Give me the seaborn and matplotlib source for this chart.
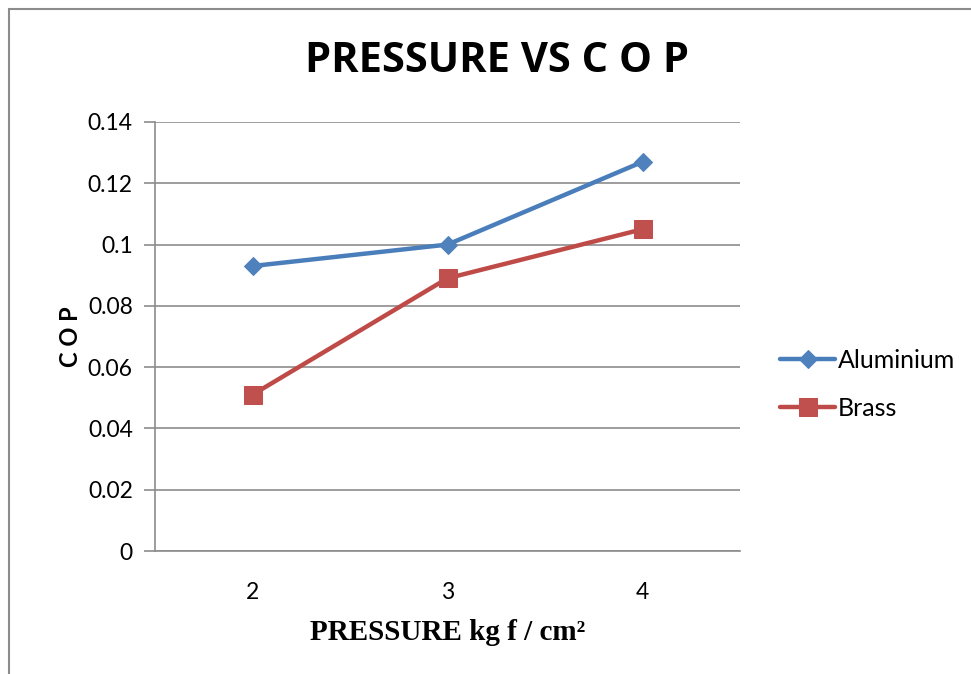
import matplotlib
matplotlib.use("Agg")
import matplotlib.pyplot as plt
import seaborn as sns
import pandas as pd
from matplotlib.patches import Rectangle

pressure = [2, 3, 4]
aluminium = [0.093, 0.100, 0.127]
brass = [0.051, 0.089, 0.105]
series_names = ["Aluminium", "Brass"]
yticks = [0, 0.02, 0.04, 0.06, 0.08, 0.1, 0.12, 0.14]
ytick_labels = ["0", "0.02", "0.04", "0.06", "0.08", "0.1", "0.12", "0.14"]

df = pd.DataFrame({
    "pressure": pressure * 2,
    "cop": aluminium + brass,
    "series": [series_names[0]] * 3 + [series_names[1]] * 3,
})

sns.set_theme(style="white")
plt.rcParams['font.family'] = ['Lato', 'DejaVu Sans']
plt.rcParams['text.color'] = 'black'
plt.rcParams['axes.labelcolor'] = 'black'

fig = plt.figure(figsize=(9.71, 6.74), dpi=100)
ax = fig.add_axes([155/971, 1 - 551/674, 585/971, 429/674])

colors = {"Aluminium": "#4A7EBB", "Brass": "#BE4B48"}
mfc = {"Aluminium": "#4F81BD", "Brass": "#C0504D"}
markers = {"Aluminium": "D", "Brass": "s"}
msize = {"Aluminium": 9, "Brass": 13}

for name in series_names:
    sub = df[df["series"] == name]
    sns.lineplot(data=sub, x="pressure", y="cop", ax=ax, color=colors[name],
                 linewidth=3.2, marker=markers[name], markersize=msize[name],
                 markerfacecolor=mfc[name], markeredgecolor=mfc[name],
                 label=name, zorder=3)

ax.set_xlim(1.5, 4.5)
ax.set_ylim(0, 0.14)
ax.set_xticks(pressure)
ax.set_xticklabels([str(p) for p in pressure])
ax.set_yticks(yticks)
ax.set_yticklabels(ytick_labels)
ax.grid(axis="y", color="#8C8C8C", linewidth=1.2)
ax.set_axisbelow(True)
for s in ["top", "right"]:
    ax.spines[s].set_visible(False)
for s in ["left", "bottom"]:
    ax.spines[s].set_color("#8C8C8C")
    ax.spines[s].set_linewidth(1.2)
ax.tick_params(axis="y", direction="out", length=8, width=1.2, color="#8C8C8C",
               labelsize=16.5, pad=8, left=True, labelcolor="black")
ax.tick_params(axis="x", length=0, labelsize=16.5, pad=22, labelcolor="black")

ax.set_xlabel("PRESSURE kg f / cm²", fontfamily="Liberation Serif", fontweight="bold",
              fontsize=21, labelpad=12, color="black")
ax.set_ylabel("C O P", fontweight="bold", fontsize=17, labelpad=4, color="black")

fig.text(497/971, 1 - 61/674, "PRESSURE VS C O P", ha="center", va="center",
         fontsize=30, fontweight="bold", fontfamily=["Open Sans", "DejaVu Sans"],
         color="black")

leg = ax.legend(loc="center left", bbox_to_anchor=(1 + 40/585, 0.389), frameon=False,
                fontsize=18, handlelength=2.2, handletextpad=0.1, labelspacing=1.0,
                borderpad=0, borderaxespad=0)
for t in leg.get_texts():
    t.set_color("black")

fig.patches.append(Rectangle((9/971, -0.1), 1.2, 1 - 9/674 + 0.1, transform=fig.transFigure,
                             fill=False, edgecolor="#8C8C8C", linewidth=1.5))

fig.savefig("out.png", dpi=100)
